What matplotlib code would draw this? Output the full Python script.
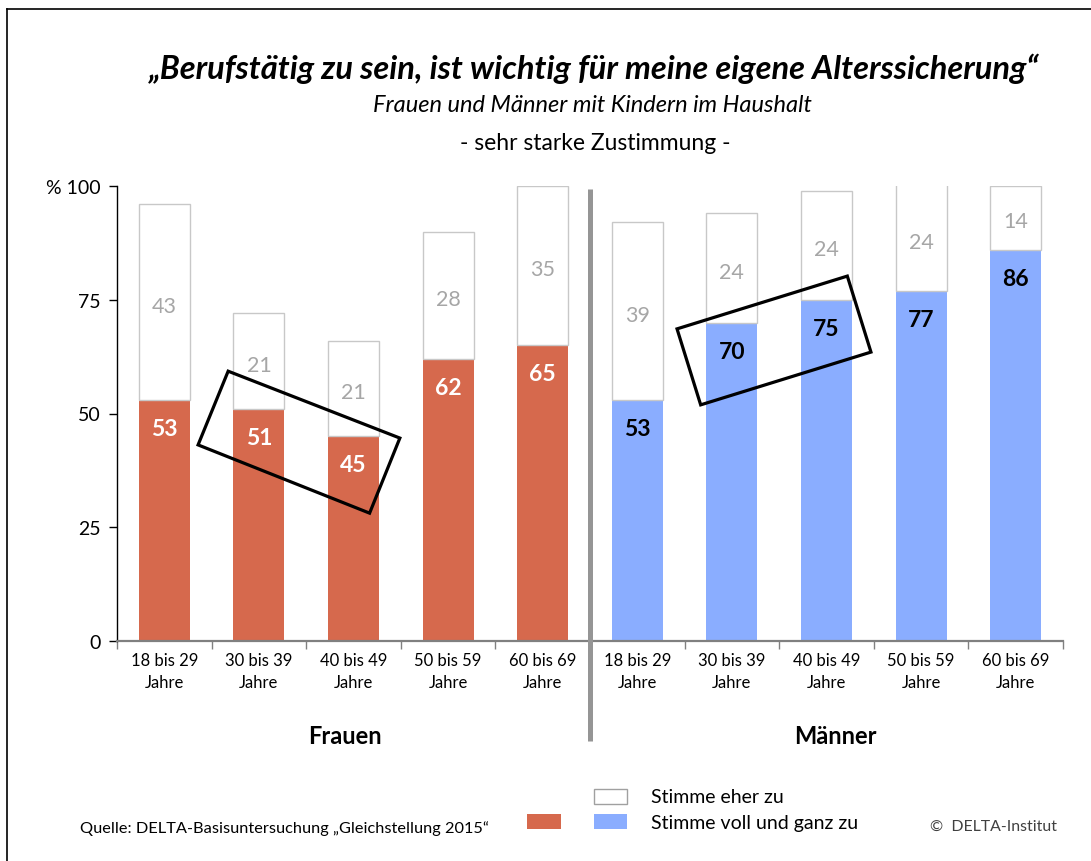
import matplotlib
matplotlib.use("Agg")
import matplotlib.pyplot as plt
from matplotlib.patches import Polygon, Rectangle
from matplotlib.lines import Line2D
import numpy as np

plt.rcParams['font.family'] = ['Lato', 'DejaVu Sans']

categories = ["18 bis 29\nJahre", "30 bis 39\nJahre", "40 bis 49\nJahre",
              "50 bis 59\nJahre", "60 bis 69\nJahre"]
frauen_voll = [53, 51, 45, 62, 65]
frauen_eher = [43, 21, 21, 28, 35]
maenner_voll = [53, 70, 75, 77, 86]
maenner_eher = [39, 24, 24, 24, 14]
yticks = [0, 25, 50, 75, 100]
ytick_labels = ["0", "25", "50", "75", "% 100"]

# highlight boxes (data coords: x category units, y percent)
box_frauen = [(0.675, 59.3), (2.49, 44.6), (2.17, 28.1), (0.357, 43.1)]
box_maenner = [(5.42, 68.6), (7.22, 80.2), (7.47, 63.5), (5.67, 51.9)]

RED = "#D6694D"
BLUE = "#8AADFF"
GRAYTXT = "#A6A6A6"

W, H = 1091, 862
fig = plt.figure(figsize=(W / 100, H / 100), dpi=100)
ax = fig.add_axes([117 / W, 1 - 642 / H, (1063 - 117) / W, (642 - 187) / H])

n = len(categories)
x_f = np.arange(n)
x_m = np.arange(n) + n
bw = 0.54

ax.bar(x_f, frauen_voll, width=bw, color=RED, edgecolor="none", zorder=2)
ax.bar(x_f, frauen_eher, bottom=frauen_voll, width=bw, color="white",
       edgecolor="#C8C8C8", linewidth=1, zorder=2)
ax.bar(x_m, maenner_voll, width=bw, color=BLUE, edgecolor="none", zorder=2)
ax.bar(x_m, maenner_eher, bottom=maenner_voll, width=bw, color="white",
       edgecolor="#C8C8C8", linewidth=1, zorder=2)

for xs, voll, eher, vcol in [(x_f, frauen_voll, frauen_eher, "white"),
                             (x_m, maenner_voll, maenner_eher, "black")]:
    for xi, v, e in zip(xs, voll, eher):
        ax.text(xi, v - 6.3, str(v), ha="center", va="center", fontsize=16.5,
                fontweight="bold", color=vcol, zorder=4)
        top = min(v + e, 100)
        ax.text(xi, (v + top) / 2 - 0.8, str(e), ha="center", va="center",
                fontsize=15.5, color=GRAYTXT, zorder=4)

for box in (box_frauen, box_maenner):
    ax.add_patch(Polygon(box, closed=True, fill=False, edgecolor="black",
                         linewidth=2.3, zorder=5, clip_on=False))

ax.set_xlim(-0.5, 2 * n - 0.5)
ax.set_ylim(0, 100)
ax.set_xticks(np.arange(2 * n))
ax.set_xticklabels(categories * 2, fontsize=12, linespacing=1.45)
ax.set_xticks(np.arange(-0.5, 2 * n, 1.0), minor=True)
ax.tick_params(axis="x", which="major", length=0, pad=8)
ax.tick_params(axis="x", which="minor", length=6, width=1, color="#808080")
ax.set_yticks(yticks)
ax.set_yticklabels(ytick_labels, fontsize=14)
ax.tick_params(axis="y", length=6, width=1, color="black", pad=6)

for s in ("top", "right"):
    ax.spines[s].set_visible(False)
ax.spines["left"].set_color("black")
ax.spines["left"].set_linewidth(1)
ax.spines["bottom"].set_color("#808080")
ax.spines["bottom"].set_linewidth(1.6)
ax.spines["bottom"].set_zorder(3)

def fx(px):
    return px / W

def fy(py):
    return 1 - py / H

# divider
fig.add_artist(Line2D([fx(590), fx(590)], [fy(190), fy(742)], color="#959595",
                      linewidth=3.6, solid_capstyle="butt"))

# outer frame
fig.add_artist(Line2D([fx(7), fx(1091)], [fy(10), fy(10)], color="black", linewidth=1.2))
fig.add_artist(Line2D([fx(7), fx(7)], [fy(10), fy(862)], color="black", linewidth=1.2))

# titles
fig.text(fx(594), fy(69), "„Berufstätig zu sein, ist wichtig für meine eigene Alterssicherung“",
         ha="center", va="center", fontsize=23.5, fontweight="bold", fontstyle="italic")
fig.text(fx(592), fy(105), "Frauen und Männer mit Kindern im Haushalt",
         ha="center", va="center", fontsize=17, fontstyle="italic")
fig.text(fx(595), fy(143), "- sehr starke Zustimmung -",
         ha="center", va="center", fontsize=16.5)

# group labels
fig.text(fx(345), fy(737), "Frauen", ha="center", va="center", fontsize=17, fontweight="bold")
fig.text(fx(835), fy(737), "Männer", ha="center", va="center", fontsize=17, fontweight="bold")

# legend
fig.add_artist(Rectangle((fx(594), fy(805)), fx(33), 15 / H, facecolor="white",
                         edgecolor="#A0A0A0", linewidth=1))
fig.add_artist(Rectangle((fx(527), fy(830)), fx(34), 15 / H, facecolor=RED,
                         edgecolor="none"))
fig.add_artist(Rectangle((fx(594), fy(830)), fx(33), 15 / H, facecolor=BLUE,
                         edgecolor="none"))
fig.text(fx(651), fy(798), "Stimme eher zu", ha="left", va="center", fontsize=14)
fig.text(fx(651), fy(824), "Stimme voll und ganz zu", ha="left", va="center", fontsize=14)

fig.text(fx(80), fy(829), "Quelle: DELTA-Basisuntersuchung „Gleichstellung 2015“",
         ha="left", va="center", fontsize=11.8)
fig.text(fx(1057), fy(827), "©  DELTA-Institut", ha="right", va="center",
         fontsize=11.4, color="#404040")

fig.savefig("out.png", dpi=100)
